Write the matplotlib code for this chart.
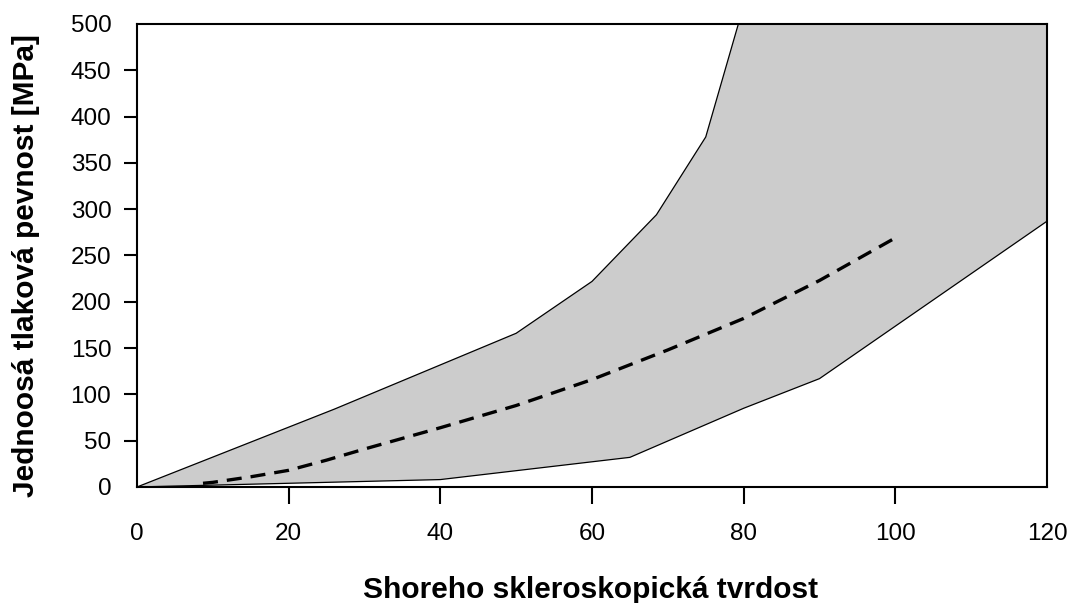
import matplotlib
matplotlib.use("Agg")
from matplotlib import pyplot as plt
import numpy as np

plt.rcParams['font.family'] = ['Liberation Sans', 'DejaVu Sans']

# upper and lower edge of the grey band
upper_x = [0, 26, 50, 60, 68.5, 75, 79.3]
upper_y = [0, 84, 166, 222, 294, 378, 500]
lower_x = [0, 40, 65, 80, 90, 120]
lower_y = [0, 8, 32, 85, 117, 287]

# mean curve (dashed)
mean_x = [8.7, 10, 15, 20, 25, 30, 40, 50, 60, 70, 80, 90, 100]
mean_y = [4, 5, 11, 18, 29, 41, 64, 88, 116, 148, 182, 223, 269]

xticks = [0, 20, 40, 60, 80, 100, 120]
yticks = [0, 50, 100, 150, 200, 250, 300, 350, 400, 450, 500]

fig = plt.figure(figsize=(10.68, 6.03), dpi=100)
ax = fig.add_axes([0.1283, 0.1924, 0.852, 0.7678])

poly_x = np.concatenate([upper_x, [120], lower_x[::-1]])
poly_y = np.concatenate([upper_y, [500], lower_y[::-1]])
ax.fill(poly_x, poly_y, color="#cccccc", lw=0)
ax.plot(upper_x, upper_y, color="black", lw=0.9)
ax.plot(lower_x, lower_y, color="black", lw=0.9)
ax.plot(mean_x, mean_y, color="black", lw=2.4, dashes=(4.5, 2.7))

ax.set_xlim(0, 120)
ax.set_ylim(0, 500)
ax.set_xticks(xticks)
ax.set_yticks(yticks)
ax.tick_params(axis="x", direction="out", length=12, width=1.5, pad=14, labelsize=17.5)
ax.tick_params(axis="y", direction="out", length=9.5, width=1.5, pad=9, labelsize=17.5)
for t in [ax.xaxis.get_major_ticks()[0], ax.xaxis.get_major_ticks()[-1],
          ax.yaxis.get_major_ticks()[0], ax.yaxis.get_major_ticks()[-1]]:
    t.tick1line.set_visible(False)
for s in ax.spines.values():
    s.set_linewidth(1.5)

fig.text(0.024, 0.56, "Jednoosá tlaková pevnost [MPa]", fontsize=21.5, fontweight="bold",
         rotation=90, ha="center", va="center")
fig.text(0.553, 0.022, "Shoreho skleroskopická tvrdost", fontsize=21.5, fontweight="bold",
         ha="center", va="center")

fig.savefig("out.png", dpi=100)
